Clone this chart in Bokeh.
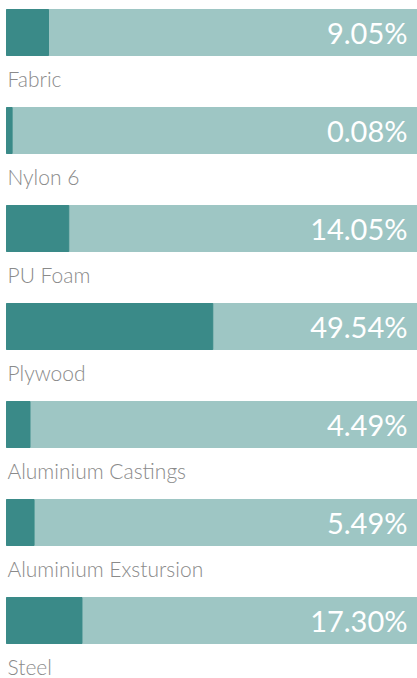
from bokeh.plotting import figure
from bokeh.models import Range1d, ColumnDataSource
from bokeh.core.properties import value
from bokeh.embed import file_html
from bokeh.resources import INLINE

materials = ["Fabric", "Nylon 6", "PU Foam", "Plywood",
             "Aluminium Castings", "Aluminium Exstursion", "Steel"]
shares = [9.05, 0.08, 14.05, 49.54, 4.49, 5.49, 17.30]
full_scale = 100

W, H = 417, 678
LEFT = 6          # pixel gap left of the bars
ROW = 98          # pixel pitch of one row
FIRST = 32        # pixel centre of the first bar
PAD = 1.3         # left lead-in of every bar, in percent units

ppu = (W - LEFT) / (full_scale + PAD)   # pixels per percent unit
x0 = -PAD - LEFT / ppu
y_top = -FIRST / ROW

rows = list(range(len(materials)))
src = ColumnDataSource(dict(
    y=rows,
    label_y=[r + 0.47 for r in rows],
    share=shares,
    full=[full_scale] * len(shares),
    name=materials,
    text=[f"{v:.2f}%" for v in shares],
))

p = figure(width=W, height=H, output_backend="svg", toolbar_location=None,
           x_range=Range1d(x0, full_scale),
           y_range=Range1d(y_top + H / ROW, y_top),
           x_axis_location=None, y_axis_location=None,
           min_border=0, outline_line_color=None,
           background_fill_color="white", border_fill_color="white")
p.grid.visible = False

bh = 46 / ROW
p.hbar(y="y", left=-PAD, right="full", height=bh, color="#9ec6c4", source=src)
p.hbar(y="y", left=-PAD, right="share", height=bh, color="#3a8a88", source=src)

p.text(x=full_scale, y="y", text="text", x_offset=-10,
       text_align="right", text_baseline="middle", text_color="white",
       text_font=value("Lato"), text_font_size="29px", source=src)
p.text(x=-PAD, y="label_y", text="name", x_offset=1,
       text_align="left", text_baseline="middle", text_color="#8a8a8a",
       text_font=value("Lato Light"), text_font_size="21px", source=src)

open("out.html", "w").write(file_html(p, INLINE))
